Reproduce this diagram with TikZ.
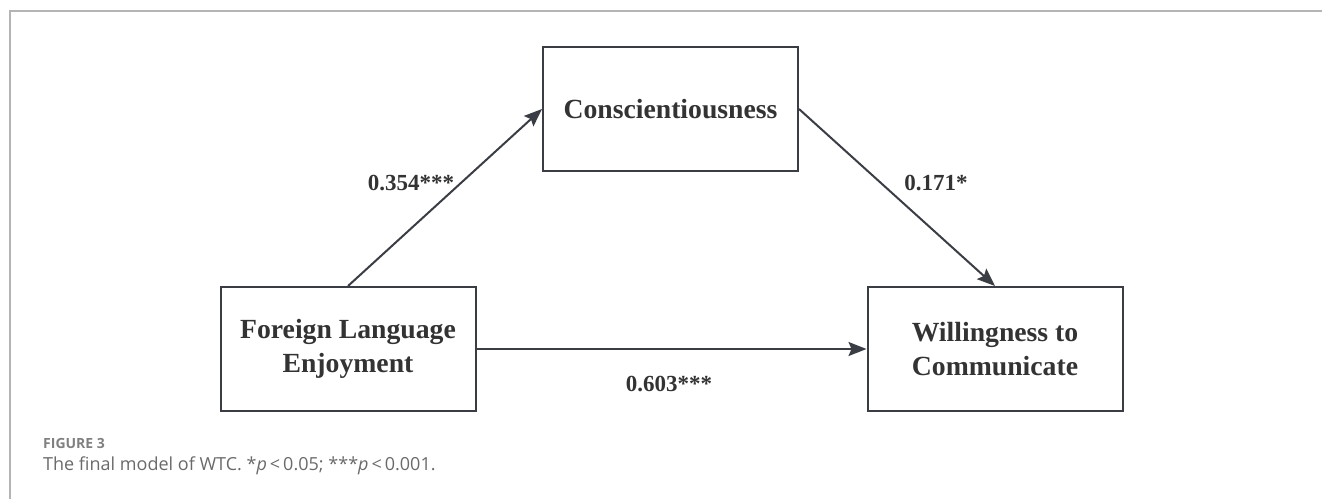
\documentclass[tikz,border=0pt]{standalone}
\usepackage{fontspec}
\setmainfont{Liberation Serif}
\newfontfamily\capfont{Open Sans}
\usepackage{tikz}
\usetikzlibrary{arrows.meta}

\definecolor{linegray}{HTML}{3A3E44}
\definecolor{textgray}{HTML}{333333}
\definecolor{framegray}{HTML}{B4B4B4}
\definecolor{capgray}{HTML}{6A6A6A}

\begin{document}
\begin{tikzpicture}[
        x=1pt, y=-1pt,
        every node/.style = {
            inner sep=0pt,
            text=textgray
        },
        varbox/.style = {
            draw=linegray,
            line width=2pt,
            minimum width=255pt,
            minimum height=124pt,
            align=center,
            font=\fontsize{27.7}{34.6}\selectfont\bfseries
        },
        coef/.style = {
            font=\fontsize{23}{28}\selectfont\bfseries
        },
        path/.style = {
            draw=linegray,
            line width=2pt,
            -{Stealth[length=18pt, width=14pt, inset=3pt]}
        },
        caption/.style = {
            anchor=west,
            text=capgray,
            font=\capfont\fontsize{18}{22}\selectfont
        }]
    \useasboundingbox (0,0) rectangle (1322,499);
    % frame of the figure panel
    \draw[framegray, line width=1.5pt] (1322,11) -- (10,11) -- (10,499);

    \node[varbox] (con) at (670.5,109) {Conscientiousness};
    \node[varbox] (fle) at (348,349) {Foreign Language\\Enjoyment};
    \node[varbox] (wtc) at (995,349) {Willingness to\\Communicate};

    \draw[path] (fle.north) -- (con.west);
    \draw[path] (con.east) -- (wtc.north);
    \draw[path] (fle.east) -- (wtc.west);

    \node[coef] (a) at (411,183) {0.354***};
    \node[coef] (b) at (936,183) {0.171*};
    \node[coef] (c) at (669,384) {0.603***};

    % caption
    \node[caption, font=\capfont\fontsize{14}{17}\selectfont\bfseries, text=capgray!85] (fig) at (43,443) {FIGURE 3};
    \node[caption] (cap) at (43,466) {The final model of WTC. *\textit{p}\,<\,0.05; ***\textit{p}\,<\,0.001.};
\end{tikzpicture}
\end{document}
